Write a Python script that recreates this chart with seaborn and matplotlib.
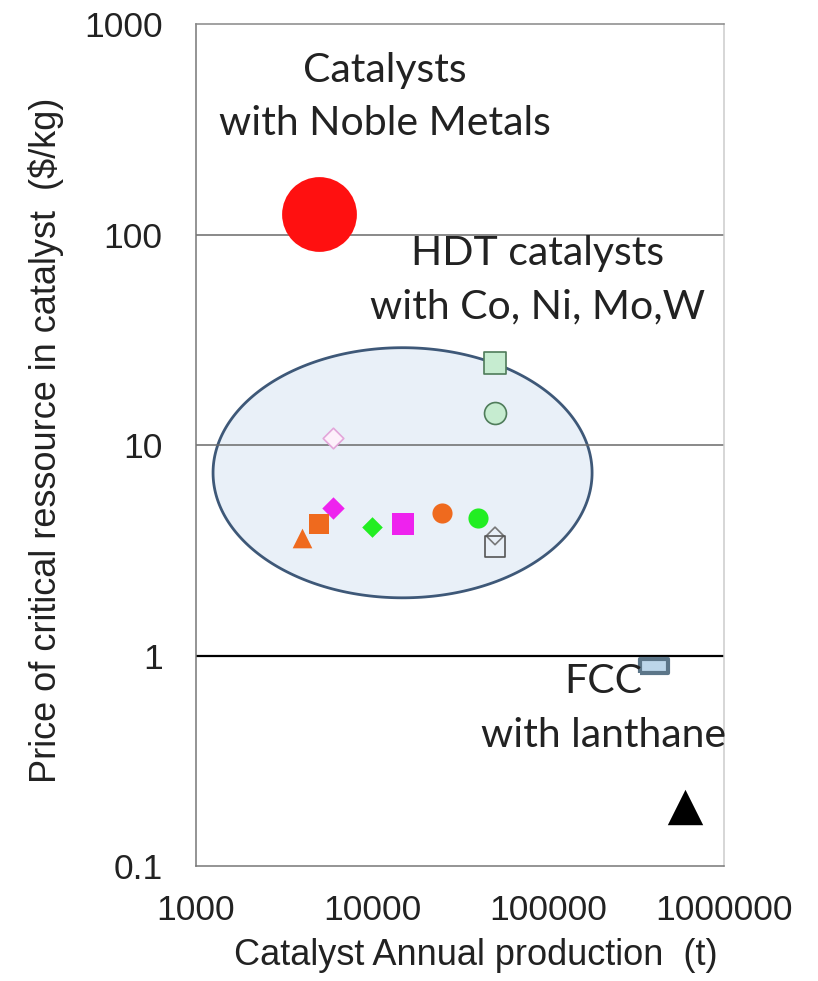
import numpy as np
import pandas as pd
import matplotlib
matplotlib.use("Agg")
import matplotlib.pyplot as plt
from matplotlib.ticker import FixedLocator, FixedFormatter, LogLocator, NullFormatter
import seaborn as sns

# Data
point_names = ["noble", "hdt_a", "hdt_b", "hdt_c", "hdt_d", "hdt_e", "hdt_f",
               "hdt_g", "hdt_h", "hdt_i", "hdt_j", "hdt_k", "hdt_l", "fcc_a", "fcc_b"]
production_t = [5000, 6000, 50000, 50000, 6000, 5000, 4000,
                10000, 15000, 25000, 40000, 50000, 50000, 400000, 600000]
price_per_kg = [125, 10.8, 14.2, 24.5, 5.0, 4.2, 3.6,
                4.1, 4.2, 4.75, 4.5, 3.7, 3.3, 0.89, 0.19]

# HDT ellipse bounds (data units)
ellipse_x = [1250, 178000]
ellipse_y = [1.88, 29]

y_ticks = [0.1, 1, 10, 100, 1000]
y_tick_labels = ["0.1", "1", "10", "100", "1000"]
x_ticks = [1000, 10000, 100000, 1000000]
x_tick_labels = ["1000", "10000", "100000", "1000000"]
h_lines = [100, 10, 1]

# Styles
rect = [(-1.0, -0.48), (1.0, -0.48), (1.0, 0.48), (-1.0, 0.48), (-1.0, -0.48)]
styles = {
    "noble": dict(marker="o", s=2900, color="#ff1010", edgecolor="#ff1010", lw=0),
    "hdt_a": dict(marker="D", s=110, color="#fdf0fb", edgecolor="#e3a6da", lw=1.2),
    "hdt_b": dict(marker="o", s=250, color="#c6ecd0", edgecolor="#4f7c5a", lw=1.2),
    "hdt_c": dict(marker="s", s=230, color="#c6ecd0", edgecolor="#4f7c5a", lw=1.2),
    "hdt_d": dict(marker="D", s=130, color="#ee22ee", edgecolor="#ee22ee", lw=0),
    "hdt_e": dict(marker="s", s=190, color="#ef6a1e", edgecolor="#ef6a1e", lw=0),
    "hdt_f": dict(marker="^", s=200, color="#ef6a1e", edgecolor="#ef6a1e", lw=0),
    "hdt_g": dict(marker="D", s=110, color="#22ee22", edgecolor="#22ee22", lw=0),
    "hdt_h": dict(marker="s", s=230, color="#ee22ee", edgecolor="#ee22ee", lw=0),
    "hdt_i": dict(marker="o", s=210, color="#ef6a1e", edgecolor="#ef6a1e", lw=0),
    "hdt_j": dict(marker="o", s=210, color="#22ee22", edgecolor="#22ee22", lw=0),
    "hdt_k": dict(marker="D", s=80, color="none", edgecolor="#777777", lw=1.2),
    "hdt_l": dict(marker="s", s=220, color="none", edgecolor="#555555", lw=1.2),
    "fcc_a": dict(marker=rect, s=420, color="#bcd6ea", edgecolor="#5c7689", lw=3.0),
    "fcc_b": dict(marker="^", s=650, color="black", edgecolor="black", lw=0),
}

df = pd.DataFrame({"name": point_names, "production": production_t, "price": price_per_kg})

sns.set_theme(style="white")
plt.rcParams["font.family"] = ["Liberation Sans", "DejaVu Sans"]

fig = plt.figure(figsize=(8.18, 9.81), dpi=100)
ax = fig.add_axes([0.2396, 0.1172, 0.6455, 0.8583])
ax.set_xscale("log")
ax.set_yscale("log")
ax.set_xlim(1000, 1000000)
ax.set_ylim(0.1, 1000)

# Ellipse drawn in log space so it stays round on log axes
lx = np.log10(ellipse_x)
ly = np.log10(ellipse_y)
t = np.linspace(0, 2 * np.pi, 300)
ex = 10 ** (lx.mean() + (lx[1] - lx[0]) / 2 * np.cos(t))
ey = 10 ** (ly.mean() + (ly[1] - ly[0]) / 2 * np.sin(t))
ax.fill(ex, ey, facecolor="#e9f0f8", edgecolor="#3e5878", lw=2.0, zorder=0.5)

for v in h_lines:
    ax.axhline(v, color="black" if v == 1 else "#6a6a6a", lw=1.6 if v == 1 else 1.1, zorder=1)

for _, row in df.iterrows():
    st = styles[row["name"]]
    sns.scatterplot(x=[row["production"]], y=[row["price"]], ax=ax, marker=st["marker"],
                    s=st["s"], color=st["color"], edgecolor=st["edgecolor"],
                    linewidth=st["lw"], zorder=3, legend=False)

# Annotations
ann_font = ["Lato", "DejaVu Sans"]
ann_kw = dict(transform=ax.transAxes, ha="center", va="center", fontsize=29.5,
              family=ann_font, color="#222222", linespacing=1.53)
ax.text(0.358, 0.913, "Catalysts\nwith Noble Metals", **ann_kw)
ax.text(0.646, 0.6955, "HDT catalysts\nwith Co, Ni, Mo,W", **ann_kw)
ax.text(0.771, 0.219, "FCC", **ann_kw)
ax.text(0.771, 0.155, "with lanthane", **ann_kw)

# Axes
ax.yaxis.set_major_locator(FixedLocator(y_ticks))
ax.yaxis.set_major_formatter(FixedFormatter(y_tick_labels))
ax.xaxis.set_major_locator(FixedLocator(x_ticks))
ax.xaxis.set_major_formatter(FixedFormatter(x_tick_labels))
ax.xaxis.set_minor_locator(LogLocator(base=10, subs=np.arange(2, 10)))
ax.yaxis.set_minor_locator(LogLocator(base=10, subs=np.arange(2, 10)))
ax.xaxis.set_minor_formatter(NullFormatter())
ax.yaxis.set_minor_formatter(NullFormatter())
ax.tick_params(which="both", direction="in", color="#666666", width=1.0, labelsize=25.5,
               labelcolor="#222222")
ax.tick_params(which="major", length=7)
ax.tick_params(which="minor", length=6)
ax.tick_params(axis="y", pad=24)
ax.tick_params(axis="x", pad=20)

for side, c in [("left", "#777777"), ("bottom", "#777777"), ("top", "#888888"), ("right", "#cccccc")]:
    ax.spines[side].set_visible(True)
    ax.spines[side].set_color(c)
    ax.spines[side].set_linewidth(1.1)

ax.set_xlabel("Catalyst Annual production  (t)", fontsize=26, color="#222222")
ax.set_ylabel("Price of critical ressource in catalyst  ($/kg)", fontsize=26, color="#222222")
ax.xaxis.label.set_va("baseline")
ax.xaxis.set_label_coords(0.53, -0.117)
ax.yaxis.set_label_coords(-0.25, 0.506)

fig.savefig("out.png", dpi=100)
